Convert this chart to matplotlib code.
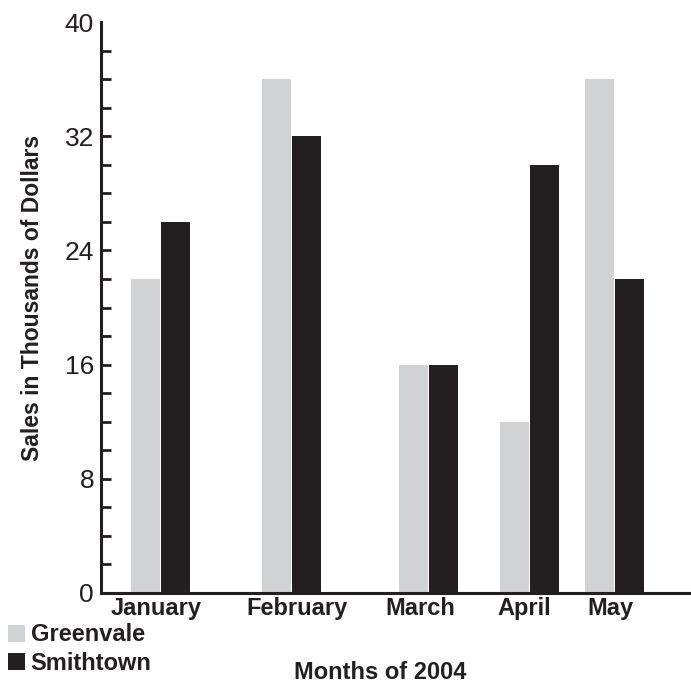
import matplotlib
matplotlib.use("Agg")
import matplotlib.pyplot as plt
from matplotlib.patches import Patch
from matplotlib.ticker import MultipleLocator

months = ["January", "February", "March", "April", "May"]
greenvale = [22, 36, 16, 12, 36]
smithtown = [26, 32, 16, 30, 22]
series_names = ["Greenvale", "Smithtown"]

# layout (group centres and label centres in axis-pixel units)
centers = [59, 190.5, 327, 428, 513]
label_pos = [55, 196, 319, 423, 509]
bar_w = 29
c_grey = "#D1D2D4"
c_black = "#231F20"

plt.rcParams["font.family"] = ["Liberation Sans", "DejaVu Sans"]

fig = plt.figure(figsize=(6.91, 6.85), dpi=100)
W, H = 691, 685
x0, y0, x1, y1 = 101, 593, 690, 22
ax = fig.add_axes([x0 / W, (H - y0) / H, (x1 - x0) / W, (y0 - y1) / H])

ax.bar([c - bar_w / 2 - 0.5 for c in centers], greenvale, width=bar_w, color=c_grey)
ax.bar([c + bar_w / 2 + 0.5 for c in centers], smithtown, width=bar_w, color=c_black)

ax.set_xlim(0, x1 - x0)
ax.set_ylim(0, 40)
for s in ["top", "right"]:
    ax.spines[s].set_visible(False)
for s in ["left", "bottom"]:
    ax.spines[s].set_linewidth(2.2)
    ax.spines[s].set_color(c_black)

ax.yaxis.set_major_locator(MultipleLocator(8))
ax.yaxis.set_minor_locator(MultipleLocator(2))
ax.tick_params(axis="y", which="both", direction="in", length=7.5, width=2, color=c_black,
               labelsize=19, labelcolor=c_black, pad=5)
fig.canvas.draw()
for t in ax.yaxis.get_major_ticks():
    if abs(t.get_loc() - 40) < 1e-6:
        t.tick1line.set_visible(False)
for t in ax.yaxis.get_minor_ticks():
    if abs(t.get_loc() - 40) < 1e-6:
        t.tick1line.set_visible(False)

ax.set_xticks(label_pos)
ax.set_xticklabels(months, fontsize=17, fontweight="bold", color=c_black)
ax.tick_params(axis="x", length=0, pad=3)

ax.set_ylabel("Sales in Thousands of Dollars", fontsize=16.5, fontweight="bold",
              color=c_black)
ax.yaxis.set_label_coords((44 - x0) / (x1 - x0), (593 - 298) / (y0 - y1))

fig.text(380 / W, 1 - 679 / H, "Months of 2004", ha="center", va="baseline",
         fontsize=17, fontweight="bold", color=c_black)

handles = [Patch(facecolor=c_grey, label=series_names[0]),
           Patch(facecolor=c_black, label=series_names[1])]
fig.legend(handles=handles, loc="upper left", bbox_to_anchor=(6 / W, 1 - 621 / H),
           frameon=False, prop={"weight": "bold", "size": 17},
           handlelength=0.72, handleheight=0.72, handletextpad=0.22,
           labelspacing=0.22, borderaxespad=0, borderpad=0.1, labelcolor=c_black)

fig.savefig("out.png", dpi=100)
